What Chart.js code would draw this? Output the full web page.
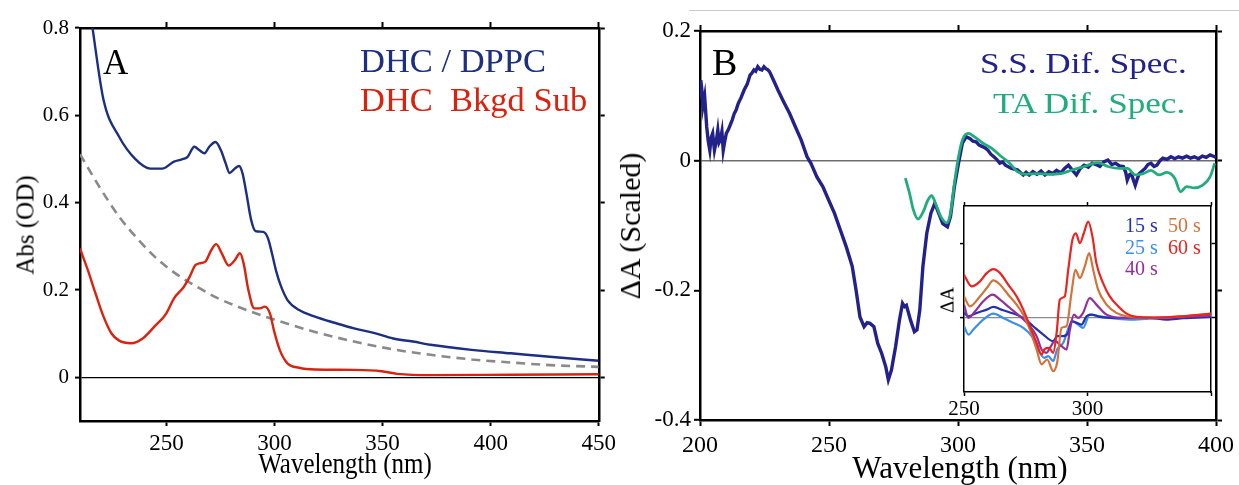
<!DOCTYPE html>
<html>
<head>
<meta charset="utf-8">
<script src="https://cdn.jsdelivr.net/npm/chart.js@4.4.1/dist/chart.umd.min.js"></script>
<style>
    body { margin: 0; background: #fff; width: 1239px; height: 485px; overflow: hidden; position: relative;
           font-family: "Liberation Serif", "Times New Roman", serif; }
    canvas { position: absolute; }
    .lbl { position: absolute; white-space: pre; line-height: 1; }
    .rot { transform: translate(-50%, -50%) rotate(-90deg); }
    .wide { transform: scaleX(1.17); transform-origin: 0 0; }
</style>
</head>
<body>
<div style="position:absolute;left:689px;top:10px;width:550px;height:1px;background:#cbcbcb"></div>
<canvas id="chartA" width="620" height="485" style="left:0;top:0"></canvas>
<canvas id="chartB" width="619" height="485" style="left:620px;top:0"></canvas>
<canvas id="inset" width="300" height="230" style="left:930px;top:195px"></canvas>

<div class="lbl" style="left:103px;top:45px;font-size:35px">A</div>
<div class="lbl" style="left:360px;top:43px;font-size:34.5px;color:#1c2f80">DHC / DPPC</div>
<div class="lbl" style="left:360px;top:82px;font-size:34.5px;color:#d9230e">DHC  Bkgd Sub</div>
<div class="lbl" style="left:345px;top:452px;font-size:25px;transform:translateX(-50%) scaleY(1.2);transform-origin:50% 21px">Wavelength (nm)</div>
<div class="lbl rot" style="left:25px;top:225px;font-size:25px">Abs (OD)</div>

<div class="lbl" style="left:712px;top:43px;font-size:38px">B</div>
<div class="lbl wide" style="left:980px;top:48px;font-size:30px;color:#22228a">S.S. Dif. Spec.</div>
<div class="lbl wide" style="left:993px;top:88px;font-size:30px;color:#21ad7b">TA Dif. Spec.</div>
<div class="lbl" style="left:960px;top:452px;font-size:31px;transform:translateX(-50%)">Wavelength (nm)</div>
<div class="lbl rot" style="left:630px;top:226px;font-size:30px">ΔA (Scaled)</div>

<div class="lbl rot" style="left:947px;top:300px;font-size:19px">ΔA</div>
<div class="lbl" style="left:1125px;top:215px;font-size:20px;color:#2430b0">15 s</div>
<div class="lbl" style="left:1168px;top:215px;font-size:20px;color:#d2733a">50 s</div>
<div class="lbl" style="left:1125px;top:237px;font-size:20px;color:#3b8fe8">25 s</div>
<div class="lbl" style="left:1168px;top:237px;font-size:20px;color:#ea2420">60 s</div>
<div class="lbl" style="left:1125px;top:258px;font-size:20px;color:#92309a">40 s</div>

<script>
// ---- panel A: absorbance ----
const waveTicksA = [250, 300, 350, 400, 450];
const absTicks = [0, 0.2, 0.4, 0.6, 0.8];

const blueWave = [210, 213, 215.8, 220.9, 228.1, 235.4, 242.6, 248, 253.5, 257.1, 259.8, 262.9, 265.3, 267.6, 269.8, 272.7, 275.2, 277.4, 279.2, 281.6, 283.6, 285.2, 287, 289.2, 291.2, 294.8, 297, 298.8, 300.6, 302.8, 306, 311.4, 318.7, 327.7, 336.8, 345.9, 354.9, 364, 373, 391.2, 409.3, 427.4, 450];
const blueAbs = [1.02, 0.9, 0.8, 0.635, 0.551, 0.501, 0.478, 0.478, 0.494, 0.499, 0.505, 0.528, 0.52, 0.513, 0.528, 0.539, 0.52, 0.49, 0.468, 0.478, 0.484, 0.467, 0.421, 0.36, 0.335, 0.333, 0.318, 0.284, 0.246, 0.211, 0.177, 0.154, 0.139, 0.125, 0.112, 0.102, 0.089, 0.082, 0.074, 0.063, 0.055, 0.047, 0.038];

const redWave = [210, 213.6, 217.2, 220.9, 224.5, 228.1, 233.6, 239, 244.4, 249.9, 253.5, 258, 260.7, 263.4, 265.3, 268, 270.7, 273, 275.6, 278.8, 281.6, 284, 285.7, 287.9, 290.6, 293.3, 295.5, 297.9, 299.7, 302.4, 306, 311.4, 318.7, 336.8, 349.5, 356.7, 373, 409.3, 450];
const redAbs = [0.295, 0.246, 0.192, 0.139, 0.101, 0.084, 0.078, 0.089, 0.116, 0.146, 0.181, 0.207, 0.23, 0.257, 0.261, 0.265, 0.291, 0.305, 0.284, 0.256, 0.268, 0.284, 0.261, 0.2, 0.158, 0.158, 0.162, 0.146, 0.108, 0.063, 0.032, 0.022, 0.018, 0.017, 0.014, 0.008, 0.005, 0.006, 0.007];

const bkgdWave = [210, 219, 228.1, 237.2, 246.2, 255.3, 264.3, 273.4, 282.5, 291.5, 300.6, 318.7, 336.8, 354.9, 373, 391.2, 409.3, 427.4, 450];
const bkgdAbs = [0.511, 0.436, 0.368, 0.314, 0.269, 0.234, 0.207, 0.182, 0.163, 0.146, 0.131, 0.104, 0.082, 0.064, 0.051, 0.041, 0.034, 0.028, 0.024];

// ---- panel B: difference spectra ----
const waveTicksB = [200, 250, 300, 350, 400];
const dATicks = [-0.4, -0.2, 0, 0.2];

const ssWave = [200, 200.3, 200.7, 201.1, 201.8, 202.6, 203.2, 203.8, 204.3, 204.9, 205.6, 206.3, 206.9, 207.4, 207.9, 208.5, 209, 209.6, 210.2, 211, 211.7, 212.5, 213.3, 214, 214.8, 216, 217.1, 218.3, 219.4, 220.1, 220.9, 221.6, 222.4, 223.2, 224, 224.8, 225.5, 226.3, 227, 228.5, 230.2, 232.4, 234.7, 237, 239.2, 241.5, 243, 245.3, 247.6, 249.9, 252.1, 254.4, 256.7, 259, 260.5, 262, 263.6, 264.8, 265.9, 267.4, 268.9, 270.4, 272, 273, 274.2, 275.8, 277.3, 278.5, 279.3, 280, 281.6, 283.1, 284.1, 285.2, 286.4, 287.9, 289.5, 291, 292.5, 294.1, 295.9, 297.1, 298.6, 300.2, 301.7, 303.2, 304.7, 305.8, 307, 308.2, 309.3, 310.4, 311.6, 312.7, 313.9, 315, 316.2, 317.3, 318.4, 320.7, 323, 325.3, 326.4, 327.6, 329, 330.6, 332.2, 333.7, 335.2, 336.7, 338.2, 339.8, 341.3, 342.8, 344.4, 345.9, 347.4, 348.9, 350.5, 352, 353.5, 355, 356.5, 358.1, 359.6, 361.1, 362.6, 364.1, 365, 365.6, 366.4, 367.2, 368, 368.7, 369.5, 370.2, 371.4, 372.5, 373.6, 374.8, 376, 377.1, 378.3, 379.4, 381, 382.5, 384, 385.5, 387, 388.6, 390.1, 391.6, 393.2, 394.7, 396.2, 397.7, 399.5, 400];
const ssDA = [0.1, 0.124, 0.11, 0.083, 0.099, 0.052, 0.03, 0.016, 0.035, 0.042, 0.016, 0.03, 0.047, 0.028, 0.032, 0.045, 0.016, 0.03, 0.042, 0.048, 0.055, 0.063, 0.073, 0.078, 0.088, 0.098, 0.109, 0.118, 0.132, 0.135, 0.14, 0.138, 0.145, 0.141, 0.14, 0.145, 0.142, 0.14, 0.137, 0.124, 0.109, 0.091, 0.073, 0.052, 0.032, 0.006, -0.004, -0.025, -0.04, -0.061, -0.081, -0.107, -0.133, -0.163, -0.2, -0.241, -0.256, -0.25, -0.251, -0.256, -0.282, -0.297, -0.318, -0.338, -0.323, -0.287, -0.246, -0.22, -0.225, -0.223, -0.246, -0.264, -0.261, -0.23, -0.163, -0.112, -0.081, -0.066, -0.081, -0.097, -0.102, -0.086, -0.04, -0.004, 0.027, 0.037, 0.034, 0.03, 0.029, 0.024, 0.022, 0.02, 0.016, 0.01, 0.006, 0.002, -0.004, -0.002, -0.007, -0.012, -0.014, -0.022, -0.018, -0.022, -0.017, -0.021, -0.016, -0.022, -0.017, -0.02, -0.015, -0.019, -0.012, -0.007, -0.015, -0.022, -0.012, -0.007, -0.01, -0.004, -0.006, -0.009, -0.002, 0.001, -0.006, -0.004, -0.008, -0.009, -0.018, -0.03, -0.022, -0.02, -0.03, -0.038, -0.028, -0.02, -0.016, -0.012, -0.006, -0.004, -0.009, -0.007, 0, 0.004, 0.002, 0.006, 0.003, 0.006, 0.004, 0.007, 0.004, 0.006, 0.003, 0.007, 0.005, 0.009, 0.006, 0.005];

const taWave = [279.6, 281.2, 282.7, 284.5, 286.5, 288.3, 289.8, 291.3, 293.3, 295.6, 297.1, 298.6, 300.2, 301.7, 304, 306.3, 309.3, 313.1, 316.9, 320, 323, 326.1, 330.6, 335.2, 339.8, 344.4, 348.9, 354.3, 358.1, 362.7, 365.7, 368.7, 371.8, 374.8, 377.9, 380.9, 384, 386.3, 388.6, 391.6, 394.7, 397.7, 399.5];
const taDA = [-0.027, -0.05, -0.076, -0.09, -0.079, -0.061, -0.054, -0.066, -0.086, -0.096, -0.081, -0.035, 0.006, 0.032, 0.042, 0.037, 0.028, 0.019, 0.006, -0.004, -0.017, -0.021, -0.02, -0.021, -0.02, -0.014, -0.009, -0.003, -0.009, -0.012, -0.012, -0.022, -0.02, -0.015, -0.022, -0.018, -0.027, -0.048, -0.04, -0.042, -0.038, -0.025, -0.004];

// ---- inset: time series ----
const insetWaveTicks = [250, 300, 350];
const insetWaveLabels = [250, 300];
const insetDATicks = [0, 1];

const wave60 = [250, 253.1, 256.5, 259.2, 261.9, 264.6, 267.9, 271.3, 274, 276.7, 279.4, 281.4, 282.7, 284.4, 286.1, 287.5, 288.8, 290.8, 292.2, 293.9, 295.3, 296.9, 298.5, 300.3, 302, 303.6, 306.3, 309, 312.4, 315.8, 319.8, 325.2, 331.9, 338.7, 345.4, 350];
const dA60 = [0.576, 0.42, 0.487, 0.598, 0.652, 0.598, 0.442, 0.286, 0.107, -0.116, -0.339, -0.496, -0.42, -0.406, -0.473, -0.205, 0.241, 0.286, 0.643, 1.045, 1.134, 1.0, 1.134, 1.29, 1.089, 0.732, 0.464, 0.286, 0.152, 0.054, 0.009, 0, 0.004, 0.018, 0.036, 0.054];
const wave50 = [250, 252.4, 256.5, 259.2, 261.9, 264.6, 267.9, 271.3, 274, 276.7, 279.4, 281.4, 283.7, 286.1, 287.7, 289.5, 291.5, 293.5, 295.1, 296.9, 298.9, 300.7, 302.3, 304.3, 307.7, 311.7, 315.8, 325.2, 338.7, 350];
const dA50 = [0.286, 0.152, 0.286, 0.397, 0.5, 0.442, 0.308, 0.174, 0.04, -0.161, -0.429, -0.629, -0.563, -0.719, -0.607, -0.138, -0.116, 0.33, 0.643, 0.531, 0.688, 0.866, 0.643, 0.375, 0.174, 0.063, 0.018, -0.004, 0.018, 0.054];
const wave40 = [250, 251.8, 254.5, 257.8, 261.6, 264.6, 268.6, 272.6, 276.7, 279.4, 281.4, 283.4, 284.8, 286.8, 289.5, 291.5, 292.9, 294.5, 296.2, 298.2, 300.9, 303.6, 307.7, 314.4, 325.2, 338.7, 350];
const dA40 = [0.174, -0.004, 0.085, 0.219, 0.308, 0.241, 0.129, 0.018, -0.116, -0.25, -0.429, -0.473, -0.406, -0.317, -0.384, -0.429, -0.161, 0.04, -0.004, 0.063, 0.263, 0.174, 0.04, -0.004, -0.004, 0.009, 0.027];
const wave15 = [250, 251.8, 255.1, 259.2, 261.9, 265.9, 270, 274, 278, 282.1, 286.1, 287.7, 290.2, 292.2, 293.5, 295.6, 297.6, 299.6, 301.6, 305, 311.7, 325.2, 331.9, 338.7, 350];
const dA15 = [0.063, 0.018, 0.063, 0.107, 0.143, 0.098, 0.054, -0.004, -0.116, -0.228, -0.317, -0.25, -0.25, -0.205, -0.049, -0.071, -0.094, 0.018, 0.04, 0.009, -0.004, -0.004, -0.027, -0.009, 0.009];
const wave25 = [250, 251.8, 253.8, 257.8, 261.9, 265.9, 270, 274, 277.4, 280.7, 282.5, 284.1, 286.1, 287.7, 290.2, 292.6, 294.2, 296.2, 298.2, 300.9, 303.6, 309, 317.1, 325.2, 338.7, 350];
const dA25 = [-0.116, -0.228, -0.161, -0.027, 0.054, -0.004, -0.071, -0.138, -0.25, -0.473, -0.54, -0.518, -0.585, -0.429, -0.339, -0.116, -0.049, -0.094, -0.138, 0.04, 0.027, -0.004, -0.027, -0.013, -0.004, 0.018];

Chart.defaults.font.family = '"Liberation Serif", "Times New Roman", serif';
Chart.defaults.color = '#000';

function pts(xs, ys) {
    return xs.map((x, i) => ({ x: x, y: ys[i] }));
}

function line(xs, ys, color, width, extra) {
    return Object.assign({
        data: pts(xs, ys), borderColor: color, borderWidth: width,
        pointRadius: 0, fill: false, tension: 0
    }, extra || {});
}

// one side of a boxed frame; size fixes the space the axis takes so the plot area lands where it should
function axis(o) {
    return {
        type: 'linear', position: o.position, min: o.min, max: o.max,
        afterBuildTicks: s => { s.ticks = o.ticks.map(v => ({ value: v })); },
        afterFit: s => { if (s.isHorizontal()) s.height = o.size; else s.width = o.size; },
        ticks: {
            display: !!o.labels, font: { size: o.font || 12 }, color: '#000', padding: o.pad || 3,
            maxRotation: 0, autoSkip: false, callback: o.labels || (v => v)
        },
        grid: {
            drawOnChartArea: !!o.zero,
            color: c => (o.zero && c.tick && c.tick.value === 0) ? o.zero : 'rgba(0,0,0,0)',
            lineWidth: o.zeroWidth || 1,
            drawTicks: true, tickLength: o.tickLen, tickColor: '#000', tickWidth: o.tickWidth
        },
        border: { display: true, color: '#000', width: o.border }
    };
}

const base = {
    responsive: false,
    animation: false,
    events: [],
    layout: { padding: 0 },
    plugins: { legend: { display: false }, tooltip: { enabled: false } }
};

const whitePlot = {
    id: 'whitePlot',
    beforeDraw(chart) {
        const a = chart.chartArea, c = chart.ctx;
        c.save();
        c.fillStyle = '#fff';
        c.fillRect(a.left, a.top, a.right - a.left, a.bottom - a.top);
        c.restore();
    }
};

new Chart(document.getElementById('chartA'), {
    type: 'line',
    data: {
        datasets: [
            line(blueWave, blueAbs, '#1c2f80', 2.4, { cubicInterpolationMode: 'monotone' }),
            line(redWave, redAbs, '#d9230e', 2.4, { cubicInterpolationMode: 'monotone' }),
            line(bkgdWave, bkgdAbs, '#8a8a8a', 2.6, { cubicInterpolationMode: 'monotone', borderDash: [9, 6] })
        ]
    },
    options: Object.assign({}, base, {
        scales: {
            x: axis({ position: 'bottom', min: 210, max: 450, ticks: waveTicksA, size: 64, font: 23, labels: String, tickLen: 5, tickWidth: 2, border: 2.5, pad: 4 }),
            xTop: axis({ position: 'top', min: 210, max: 450, ticks: waveTicksA, size: 28, tickLen: 6, tickWidth: 2, border: 2.5 }),
            y: axis({ position: 'left', min: -0.1, max: 0.8, ticks: absTicks, size: 80, font: 21, labels: String, tickLen: 5, tickWidth: 2, border: 2.5, pad: 6, zero: '#000', zeroWidth: 1.2 }),
            yRight: axis({ position: 'right', min: -0.1, max: 0.8, ticks: absTicks, size: 18, tickLen: 6, tickWidth: 2, border: 2.5 })
        }
    })
});

new Chart(document.getElementById('chartB'), {
    type: 'line',
    data: {
        datasets: [
            line(taWave, taDA, '#21ad7b', 2.8, { cubicInterpolationMode: 'monotone' }),
            line(ssWave, ssDA, '#22228a', 3.4)
        ]
    },
    options: Object.assign({}, base, {
        scales: {
            x: axis({ position: 'bottom', min: 200, max: 400, ticks: waveTicksB, size: 65, font: 24, labels: String, tickLen: 6, tickWidth: 2, border: 2.5, pad: 5 }),
            xTop: axis({ position: 'top', min: 200, max: 400, ticks: waveTicksB, size: 31, tickLen: 6, tickWidth: 2, border: 2.5 }),
            y: axis({ position: 'left', min: -0.4, max: 0.2, ticks: dATicks, size: 80, font: 23, labels: String, tickLen: 6, tickWidth: 2, border: 2.5, pad: 3, zero: '#6e6e6e', zeroWidth: 1.6 }),
            yRight: axis({ position: 'right', min: -0.4, max: 0.2, ticks: dATicks, size: 22, tickLen: 6, tickWidth: 2, border: 2.5 })
        }
    })
});

new Chart(document.getElementById('inset'), {
    type: 'line',
    data: {
        datasets: [
            line(wave60, dA60, '#ea2420', 2.2, { cubicInterpolationMode: 'monotone' }),
            line(wave50, dA50, '#d2733a', 2.2, { cubicInterpolationMode: 'monotone' }),
            line(wave40, dA40, '#92309a', 2.2, { cubicInterpolationMode: 'monotone' }),
            line(wave15, dA15, '#2430b0', 2.2, { cubicInterpolationMode: 'monotone' }),
            line(wave25, dA25, '#3b8fe8', 2.2, { cubicInterpolationMode: 'monotone' })
        ]
    },
    options: Object.assign({}, base, {
        scales: {
            x: axis({ position: 'bottom', min: 250, max: 350, ticks: insetWaveTicks, size: 33, font: 21, labels: v => insetWaveLabels.includes(v) ? String(v) : '', tickLen: 4, tickWidth: 1.5, border: 1.5, pad: 1 }),
            xTop: axis({ position: 'top', min: 250, max: 350, ticks: insetWaveTicks, size: 11, tickLen: 4, tickWidth: 1.5, border: 1.5 }),
            y: axis({ position: 'left', min: -1, max: 1.5, ticks: insetDATicks, size: 34, tickLen: 4, tickWidth: 1.5, border: 1.5, zero: '#8a8a8a', zeroWidth: 1.2 }),
            yRight: axis({ position: 'right', min: -1, max: 1.5, ticks: insetDATicks, size: 19, tickLen: 4, tickWidth: 1.5, border: 1.5 })
        }
    }),
    plugins: [whitePlot]
});
</script>
</body>
</html>
